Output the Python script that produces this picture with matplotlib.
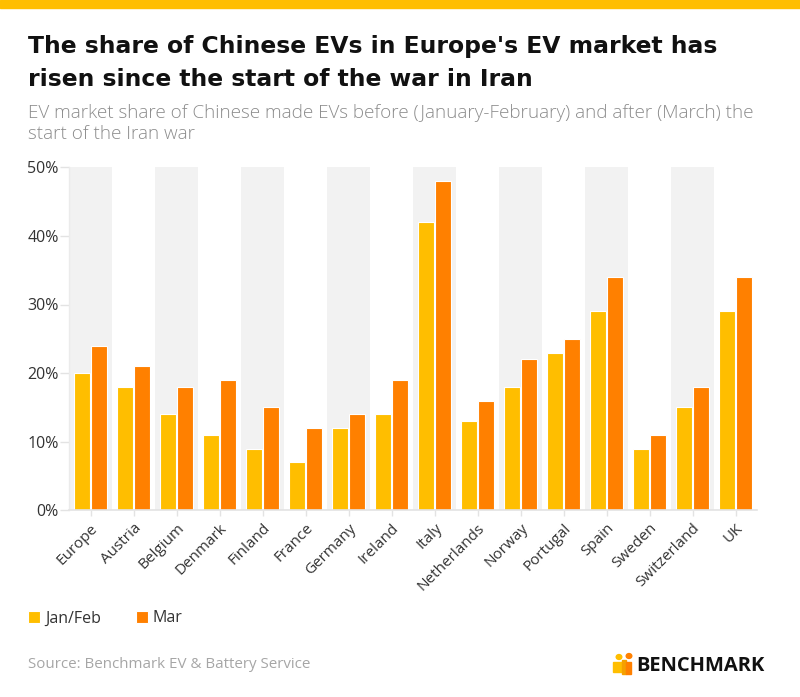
import numpy as np
import matplotlib.pyplot as plt
from matplotlib.patches import Rectangle, Circle
from matplotlib.ticker import FuncFormatter

# data
countries = ['Europe', 'Austria', 'Belgium', 'Denmark', 'Finland', 'France', 'Germany',
             'Ireland', 'Italy', 'Netherlands', 'Norway', 'Portugal', 'Spain', 'Sweden',
             'Switzerland', 'UK']
jan_feb = [20, 18, 14, 11, 9, 7, 12, 14, 42, 13, 18, 23, 29, 9, 15, 29]
mar = [24, 21, 18, 19, 15, 12, 14, 19, 48, 16, 22, 25, 34, 11, 18, 34]
yticks = [0, 10, 20, 30, 40, 50]

YELLOW = '#FFBE00'
ORANGE = '#FF8000'
BAND = '#F2F2F2'
FONT = 'Open Sans'

plt.rcParams['font.family'] = [FONT, 'DejaVu Sans']

fig = plt.figure(figsize=(8, 6.97), dpi=100)
W, H = 800, 697

def fx(px):
    return px / W

def fy(py):
    return 1 - py / H

# top yellow strip
fig.patches.append(Rectangle((0, fy(8)), 1, 8 / H, transform=fig.transFigure,
                             color=YELLOW, zorder=0))

title_kw = dict(fontsize=16.9, fontweight='bold', color='#111111', va='center',
                family='DejaVu Sans')
fig.text(fx(28), fy(47), "The share of Chinese EVs in Europe's EV market has", **title_kw)
fig.text(fx(28), fy(80), "risen since the start of the war in Iran", **title_kw)
sub_kw = dict(fontsize=13.6, color='#8c8c8c', va='center', fontweight='light')
fig.text(fx(28), fy(113), "EV market share of Chinese made EVs before (January-February) and after (March) the",
         **sub_kw)
fig.text(fx(28), fy(134), "start of the Iran war", **sub_kw)

ax = fig.add_axes([fx(69), fy(510.3), fx(757 - 69), (510.3 - 167.3) / H])

x = np.arange(len(countries))
for i in x[::2]:
    ax.axvspan(i - 0.5, i + 0.5, ymin=0, ymax=1, color=BAND, lw=0, zorder=0)

bw = 0.37
ax.bar(x - 0.2, jan_feb, width=bw, color=YELLOW, edgecolor='white', linewidth=0.8,
       zorder=2, label='Jan/Feb')
ax.bar(x + 0.2, mar, width=bw, color=ORANGE, edgecolor='white', linewidth=0.8,
       zorder=2, label='Mar')

ax.set_xlim(-0.5, len(countries) - 0.5)
ax.set_ylim(0, 50)
ax.set_yticks(yticks)
ax.yaxis.set_major_formatter(FuncFormatter(lambda v, p: f'{v:.0f}%'))
ax.set_xticks(x)
ax.set_xticklabels(countries, rotation=45, ha='right', rotation_mode='anchor')

for s in ['top', 'right']:
    ax.spines[s].set_visible(False)
ax.spines['left'].set_color('#ebebeb')
ax.spines['bottom'].set_color('#e3e3e3')
ax.spines['left'].set_linewidth(1)
ax.spines['bottom'].set_linewidth(1.2)
ax.tick_params(axis='y', length=6.5, width=1, color='#e3e3e3', labelsize=11.5,
               labelcolor='#333333', pad=1)
ax.tick_params(axis='x', length=4.5, width=1, color='#e3e3e3', labelsize=11,
               labelcolor='#333333', pad=3)

# legend
leg = fig.legend(loc='upper left', bbox_to_anchor=(fx(22), fy(604)), ncol=2,
                 frameon=False, fontsize=11.5, handlelength=0.75, handleheight=0.75,
                 handletextpad=0.3, columnspacing=2.2, borderaxespad=0)
for t in leg.get_texts():
    t.set_color('#333333')

fig.text(fx(28), fy(665), 'Source: Benchmark EV & Battery Service', fontsize=10.9,
         color='#a6a6a6', va='center')

# Benchmark logo
fig.text(fx(765), fy(666), 'BENCHMARK', fontsize=14.5, fontweight='bold',
         color='#111111', va='center', ha='right')
fig.patches.append(Circle((fx(619), fy(657)), 2.8 / W, transform=fig.transFigure,
                          color=YELLOW, zorder=3))
fig.patches.append(Circle((fx(629), fy(656)), 2.8 / W, transform=fig.transFigure,
                          color=ORANGE, zorder=3))
fig.patches.append(Rectangle((fx(613), fy(672)), 9 / W, 10 / H, transform=fig.transFigure,
                             color=YELLOW, zorder=3))
fig.patches.append(Rectangle((fx(622), fy(674)), 4 / W, 14 / H, transform=fig.transFigure,
                             color='#F5A000', zorder=3))
fig.patches.append(Rectangle((fx(626), fy(674)), 5 / W, 12 / H, transform=fig.transFigure,
                             color=ORANGE, zorder=3))

fig.savefig('out.png', dpi=100)
